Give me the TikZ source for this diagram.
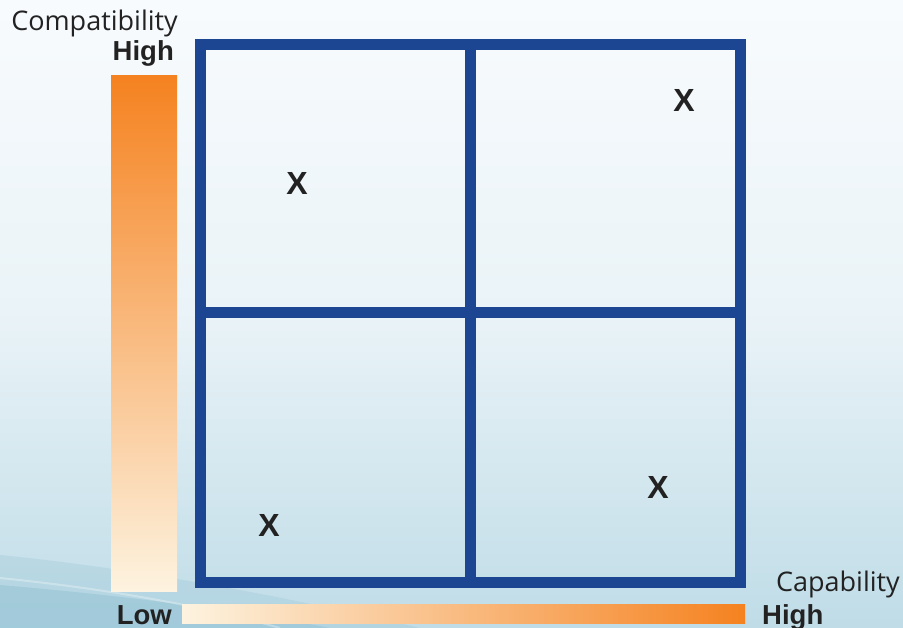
\documentclass[tikz,border=0pt]{standalone}
\usepackage{fontspec}
\setmainfont{Liberation Sans}
\newfontfamily\labelfont{Open Sans}
\definecolor{gridblue}{HTML}{1C4592}
\definecolor{orangehi}{HTML}{F58220}
\definecolor{orangelo}{HTML}{FDF3E0}
\definecolor{bgtop}{HTML}{F8FBFD}
\definecolor{bgbot}{HTML}{BFDCE7}
\definecolor{bgdeep}{HTML}{8EBFD2}
\definecolor{txt}{HTML}{222222}
\tikzset{
  gridline/.style={draw=gridblue, line width=11pt},
  mark x/.style={font=\fontsize{32}{32}\selectfont\bfseries, text=txt},
  axislabel/.style={font=\labelfont\fontsize{27}{27}\selectfont, text=txt, inner sep=0pt},
  endlabel/.style={font=\fontsize{27.5}{27.5}\selectfont\bfseries, text=txt, inner sep=0pt},
}
\begin{document}
\begin{tikzpicture}[x=1pt,y=-1pt]
\useasboundingbox (0,0) rectangle (903,628);
% background
\shade[top color=bgtop, bottom color=bgbot, middle color=bgtop!75!bgbot] (0,0) rectangle (903,628);
\fill[bgdeep, opacity=0.45] (0,585) .. controls (120,595) and (250,612) .. (330,628) -- (0,628) -- cycle;
\fill[bgdeep, opacity=0.25] (0,555) .. controls (150,570) and (300,600) .. (420,628) -- (0,628) -- cycle;
\draw[white, opacity=0.3, line width=2pt] (0,578) .. controls (100,588) and (200,605) .. (280,628);
% gradient bars
\shade[top color=orangehi, bottom color=orangelo] (111,76) rectangle (177,591);
\shade[left color=orangelo, right color=orangehi] (182,604) rectangle (745,623);
% grid
\coordinate (tl) at (200,45);
\coordinate (br) at (740,582);
\draw[gridline] (tl) rectangle (br);
\coordinate (mt) at (470,45);
\coordinate (mb) at (470,582);
\coordinate (ml) at (200,313);
\coordinate (mr) at (740,313);
\draw[gridline] (mt) -- (mb);
\draw[gridline] (ml) -- (mr);
% marks
\node[mark x] (x1) at (297,183) {X};
\node[mark x] (x2) at (684,100) {X};
\node[mark x] (x3) at (269,525) {X};
\node[mark x] (x4) at (658,487) {X};
% labels
\node[axislabel, anchor=base east] (compat) at (178,31) {Compatibility};
\node[endlabel, anchor=base east] (yhigh) at (174,61) {High};
\node[endlabel, anchor=base east] (ylow) at (172,624) {Low};
\node[axislabel, anchor=base east] (capab) at (900,591) {Capability};
\node[endlabel, anchor=base west] (xhigh) at (762,624) {High};
\end{tikzpicture}
\end{document}
